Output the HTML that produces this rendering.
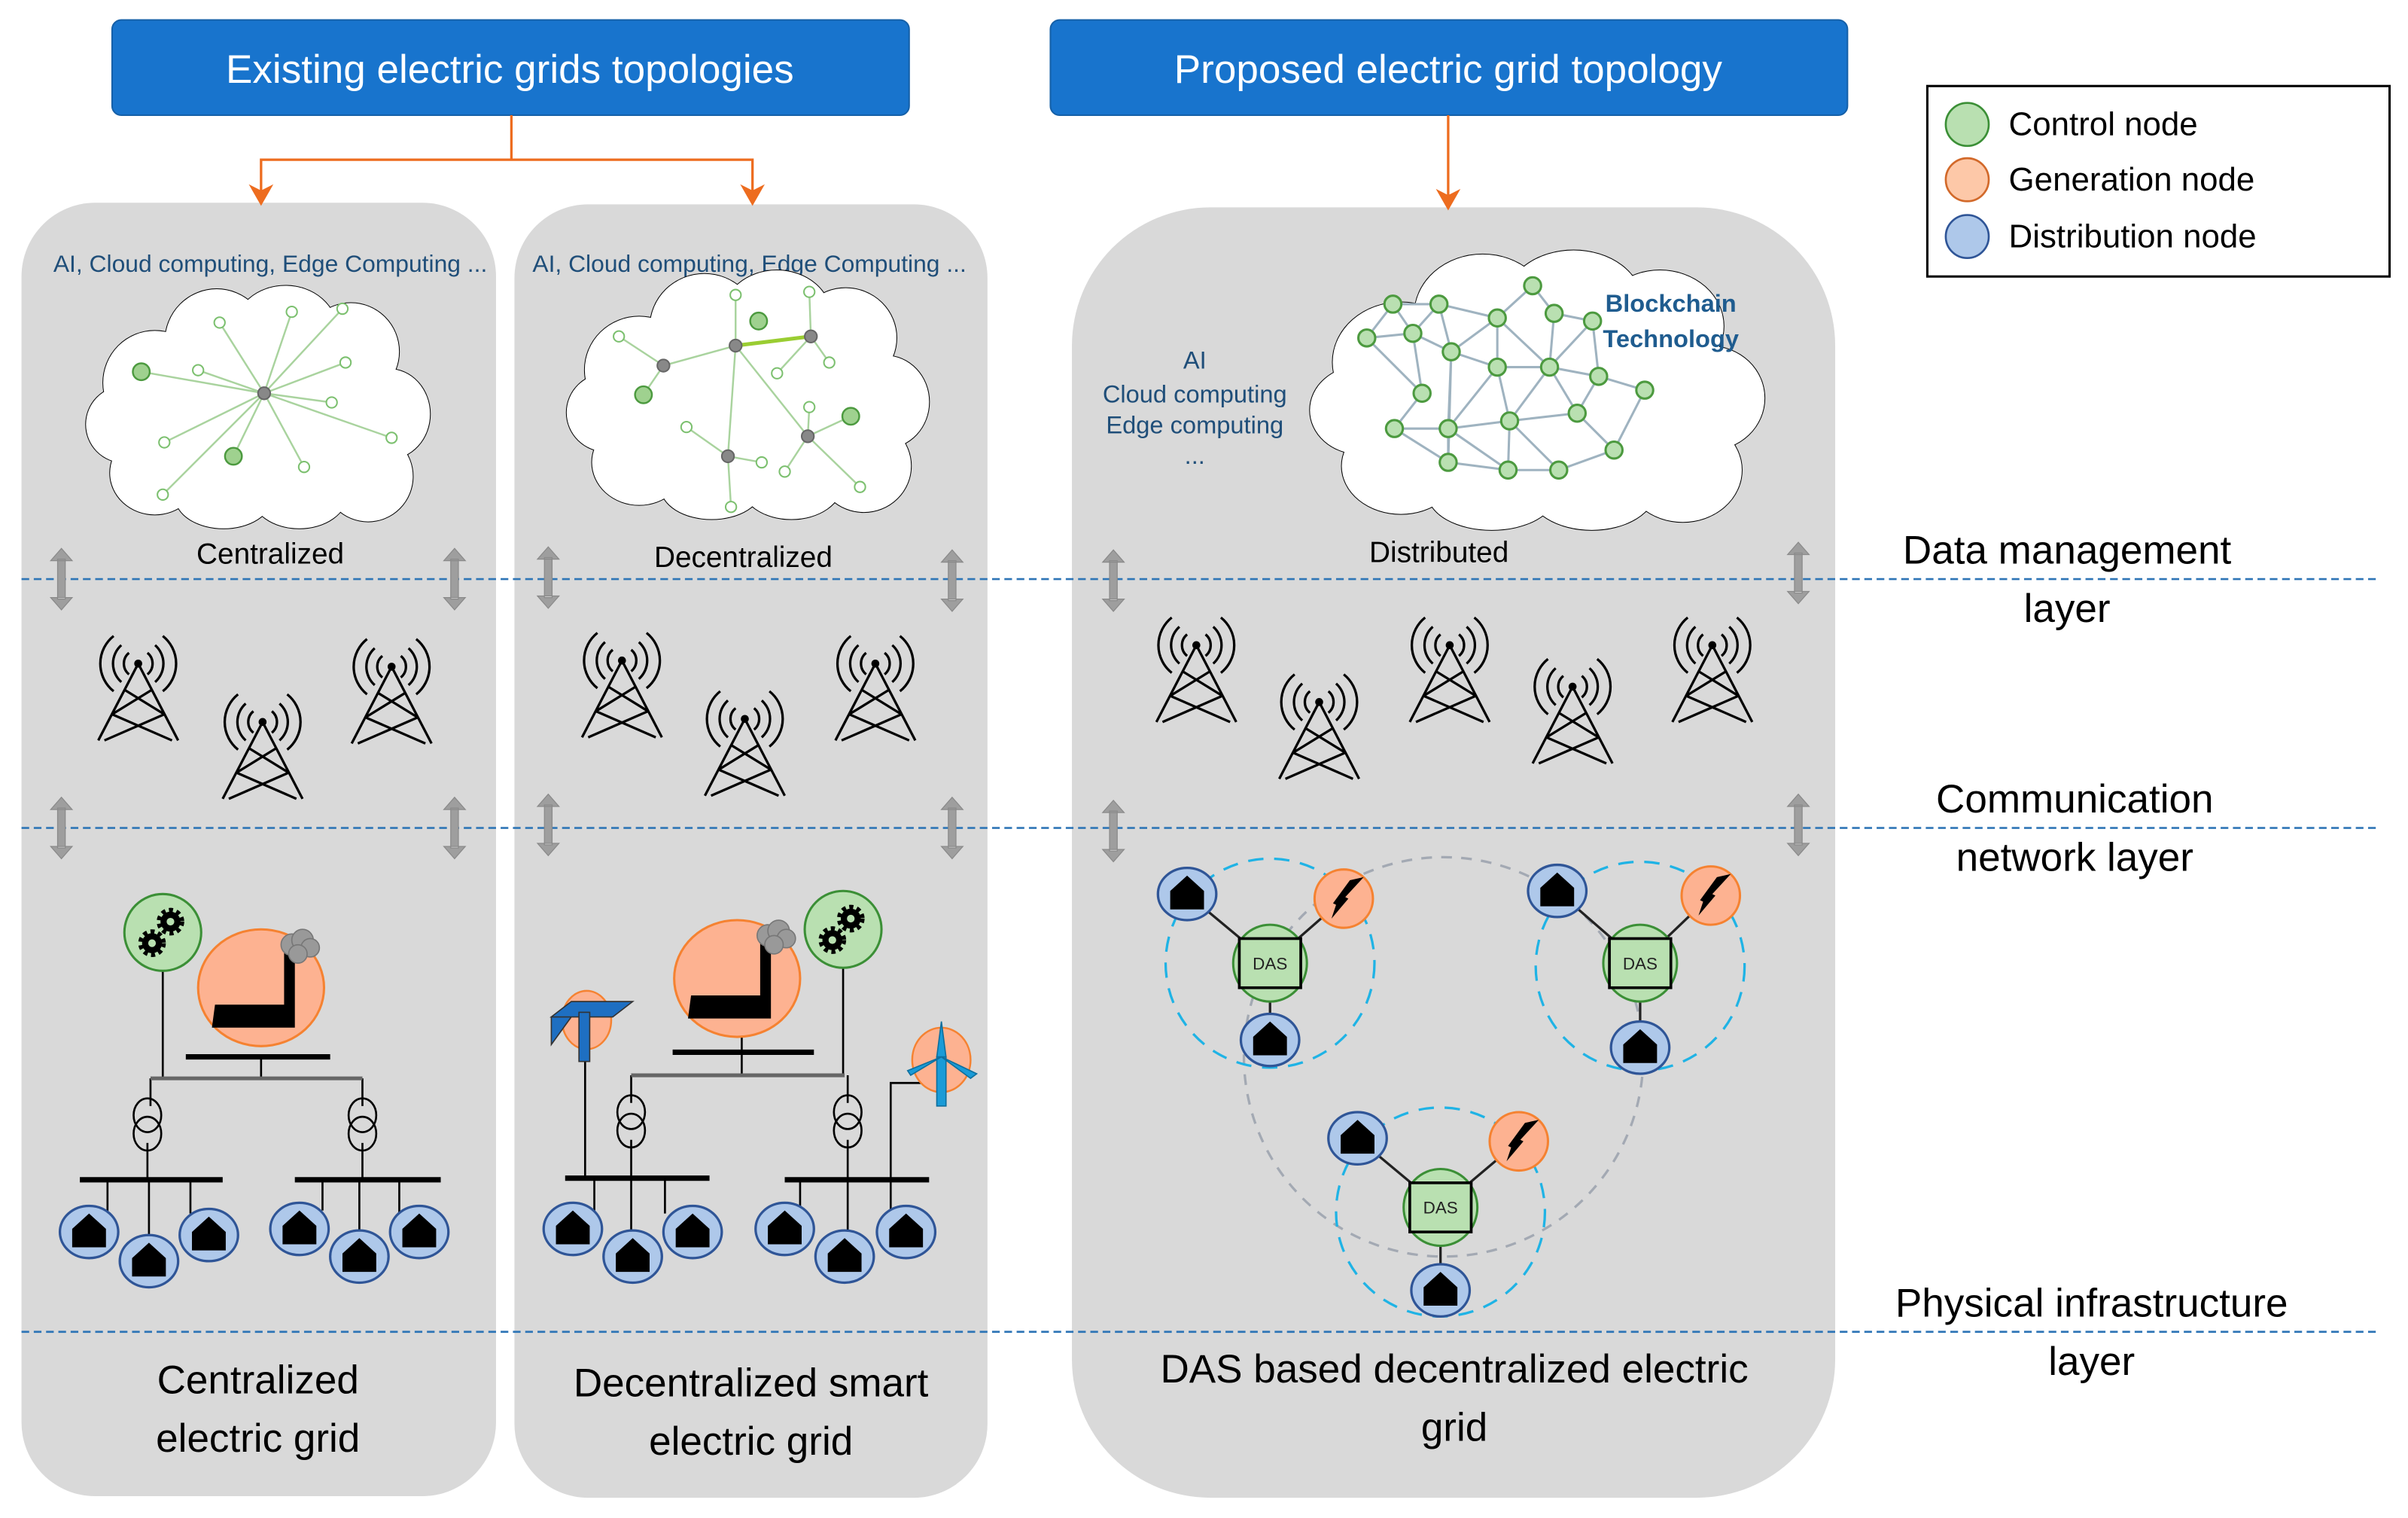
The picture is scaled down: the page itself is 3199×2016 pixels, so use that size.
<!DOCTYPE html>
<html><head><meta charset="utf-8"><style>html,body{margin:0;padding:0;background:#fff}svg{display:block}</style></head>
<body>
<svg width="3199" height="2016" viewBox="0 0 1568 988.2" preserveAspectRatio="none" xmlns="http://www.w3.org/2000/svg" font-family="Liberation Sans, sans-serif">
<defs>
<symbol id="cloud" viewBox="0 0 100 70" preserveAspectRatio="none" overflow="visible">
<g fill="#fff" stroke="#000" stroke-width="2" vector-effect="non-scaling-stroke">
<ellipse cx="20" cy="28" rx="15" ry="15" vector-effect="non-scaling-stroke"/><ellipse cx="38" cy="16" rx="15" ry="15" vector-effect="non-scaling-stroke"/><ellipse cx="58" cy="13" rx="15" ry="13" vector-effect="non-scaling-stroke"/><ellipse cx="77" cy="19" rx="14" ry="14" vector-effect="non-scaling-stroke"/><ellipse cx="88" cy="37" rx="12" ry="13" vector-effect="non-scaling-stroke"/><ellipse cx="82" cy="55" rx="13" ry="13" vector-effect="non-scaling-stroke"/><ellipse cx="62" cy="60" rx="14" ry="10" vector-effect="non-scaling-stroke"/><ellipse cx="40" cy="61" rx="14" ry="9" vector-effect="non-scaling-stroke"/><ellipse cx="20" cy="54" rx="13" ry="12" vector-effect="non-scaling-stroke"/><ellipse cx="11" cy="40" rx="11" ry="11" vector-effect="non-scaling-stroke"/>
</g>
<g fill="#fff">
<ellipse cx="20" cy="28" rx="15" ry="15"/><ellipse cx="38" cy="16" rx="15" ry="15"/><ellipse cx="58" cy="13" rx="15" ry="13"/><ellipse cx="77" cy="19" rx="14" ry="14"/><ellipse cx="88" cy="37" rx="12" ry="13"/><ellipse cx="82" cy="55" rx="13" ry="13"/><ellipse cx="62" cy="60" rx="14" ry="10"/><ellipse cx="40" cy="61" rx="14" ry="9"/><ellipse cx="20" cy="54" rx="13" ry="12"/><ellipse cx="11" cy="40" rx="11" ry="11"/><ellipse cx="50" cy="38" rx="36" ry="24"/>
</g>
</symbol>
<g id="tower" fill="none" stroke="#000" stroke-width="1.6">
<circle cx="0" cy="0" r="1.8" fill="#000"/>
<path d="M0,0 L-26,50 M0,0 L26,50 M-9,17 L17,33 M9,17 L-17,33 M-17,33 L22,50 M17,33 L-22,50"/>
<path d="M-6,-7 A9,9 0 0,0 -6,7 M6,-7 A9,9 0 0,1 6,7 M-11,-12 A16,16 0 0,0 -11,12 M11,-12 A16,16 0 0,1 11,12 M-16,-18 A23,23 0 0,0 -16,18 M16,-18 A23,23 0 0,1 16,18"/>
</g>
<g id="darrow"><path d="M-2.5,-13 L2.5,-13 L2.5,13 L-2.5,13Z M-7,-12 L0,-20 L7,-12Z M-7,12 L0,20 L7,12Z" fill="#9e9e9e" stroke="#8a8a8a" stroke-width="0.6"/></g>
<g id="house"><ellipse cx="0" cy="0" rx="19" ry="17" fill="#aec8ea" stroke="#2f5597" stroke-width="1.6"/><path d="M-11,10 L-11,-2 L0,-12 L11,-2 L11,10Z" fill="#000"/></g>
<g id="gen"><ellipse cx="0" cy="0" rx="19" ry="19" fill="#fdb291" stroke="#f58231" stroke-width="1.5"/><path d="M13,-14 L1,-1 L3,0 L-8,13 L-5,4 L-7,3 L4,-12Z" fill="#000"/></g>
<g id="das"><ellipse cx="0" cy="0" rx="24" ry="25" fill="#b9e0b1" stroke="#3b8f36" stroke-width="1.5"/><rect x="-20" y="-16" width="40" height="32" fill="#b9e0b1" stroke="#000" stroke-width="1.8"/><text x="0" y="4" font-size="11" text-anchor="middle" fill="#222">DAS</text></g>
<g id="ctrl"><ellipse cx="0" cy="0" rx="25" ry="25" fill="#b9e0b1" stroke="#3b8f36" stroke-width="1.5"/>
<circle cx="5" cy="-7" r="4.5" fill="none" stroke="#000" stroke-width="4"/><circle cx="5" cy="-7" r="7.5" fill="none" stroke="#000" stroke-width="3" stroke-dasharray="2.6 2.3"/>
<circle cx="-7" cy="7" r="4.5" fill="none" stroke="#000" stroke-width="4"/><circle cx="-7" cy="7" r="7.5" fill="none" stroke="#000" stroke-width="3" stroke-dasharray="2.6 2.3"/></g>
<g id="factory"><ellipse cx="0" cy="0" rx="41" ry="38" fill="#fdb291" stroke="#f58231" stroke-width="1.5"/>
<path d="M-32,26 L-30,11 L15,11 L15,-23 L22,-23 L22,26Z" fill="#000"/>
<g fill="#999" stroke="#777" stroke-width="0.8"><circle cx="20" cy="-28" r="7"/><circle cx="27" cy="-31" r="7"/><circle cx="32" cy="-26" r="6"/><circle cx="24" cy="-22" r="6"/></g></g>
<g id="xfmr" fill="none" stroke="#000" stroke-width="1.3"><ellipse cx="0" cy="-6" rx="9" ry="11"/><ellipse cx="0" cy="6" rx="9" ry="11"/></g>
</defs>

<rect width="1568" height="988.2" fill="#fff"/>
<rect x="14" y="132" width="309" height="842" rx="48" fill="#d9d9d9"/>
<rect x="335" y="133" width="308" height="842" rx="48" fill="#d9d9d9"/>
<rect x="698" y="135" width="497" height="840" rx="90" fill="#d9d9d9"/>

<rect x="73" y="13" width="519" height="62" rx="6" fill="#1874cd" stroke="#1560a8" stroke-width="1"/>
<text x="332" y="54" font-size="26" fill="#fff" text-anchor="middle">Existing electric grids topologies</text>
<rect x="684" y="13" width="519" height="62" rx="6" fill="#1874cd" stroke="#1560a8" stroke-width="1"/>
<text x="943" y="54" font-size="26" fill="#fff" text-anchor="middle">Proposed electric grid topology</text>

<g stroke="#ed6c1f" stroke-width="1.6" fill="none"><path d="M333,75 V104 H170 V124 M333,104 H490 V124 M943,75 V127"/></g>
<g fill="#ed6c1f"><path d="M162,120 L170,134 L178,120 L170,124Z"/><path d="M482,120 L490,134 L498,120 L490,124Z"/><path d="M935,123 L943,137 L951,123 L943,127Z"/></g>

<rect x="1255" y="56" width="301" height="124" fill="#fff" stroke="#000" stroke-width="1.5"/>
<ellipse cx="1281" cy="81" rx="14" ry="14" fill="#b9e0b1" stroke="#3b8f36" stroke-width="1.3"/>
<ellipse cx="1281" cy="117" rx="14" ry="14" fill="#fdc8a8" stroke="#d2692a" stroke-width="1.3"/>
<ellipse cx="1281" cy="154" rx="14" ry="14" fill="#aec8ea" stroke="#2f5597" stroke-width="1.3"/>
<g font-size="21.5" fill="#000"><text x="1308" y="88">Control node</text><text x="1308" y="124">Generation node</text><text x="1308" y="161">Distribution node</text></g>

<g stroke="#2e75b6" stroke-width="1.3" stroke-dasharray="5 3"><line x1="14" y1="377" x2="1548" y2="377"/><line x1="14" y1="539" x2="1548" y2="539"/><line x1="14" y1="867" x2="1548" y2="867"/></g>

<g font-size="26" fill="#000" text-anchor="middle">
<text x="1346" y="367">Data management</text><text x="1346" y="405">layer</text>
<text x="1351" y="529">Communication</text><text x="1351" y="567">network layer</text>
<text x="1362" y="857">Physical infrastructure</text><text x="1362" y="895">layer</text>
<text x="168" y="907">Centralized</text><text x="168" y="945">electric grid</text>
<text x="489" y="909">Decentralized smart</text><text x="489" y="947">electric grid</text>
<text x="947" y="900">DAS based decentralized electric</text><text x="947" y="938">grid</text>
</g>

<g font-size="15.6" fill="#1f4e79" text-anchor="middle">
<text x="176" y="177">AI, Cloud computing, Edge Computing ...</text>
<text x="488" y="177">AI, Cloud computing, Edge Computing ...</text>
</g>
<g font-size="16" fill="#1f4e79" text-anchor="middle">
<text x="778" y="240">AI</text><text x="778" y="262">Cloud computing</text><text x="778" y="282">Edge computing</text><text x="778" y="302">...</text>
</g>
<g font-size="19" fill="#000" text-anchor="middle"><text x="176" y="367">Centralized</text><text x="484" y="369">Decentralized</text><text x="937" y="366">Distributed</text></g>

<use href="#cloud" x="56" y="186" width="224" height="158"/>
<use href="#cloud" x="369" y="176" width="236" height="162"/>
<use href="#cloud" x="853" y="163" width="296" height="182"/>

<g stroke="#a9d39e" stroke-width="1.2" fill="none">
<path d="M172,256 L92,242 M172,256 L152,297 M172,256 L143,210 M172,256 L190,203 M172,256 L223,201 M172,256 L129,241 M172,256 L225,236 M172,256 L216,262 M172,256 L107,288 M172,256 L106,322 M172,256 L198,304 M172,256 L255,285"/>
</g>
<g fill="#fff" stroke="#7cc06f" stroke-width="1"><circle cx="143" cy="210" r="3.5"/><circle cx="190" cy="203" r="3.5"/><circle cx="223" cy="201" r="3.5"/><circle cx="129" cy="241" r="3.5"/><circle cx="225" cy="236" r="3.5"/><circle cx="216" cy="262" r="3.5"/><circle cx="107" cy="288" r="3.5"/><circle cx="106" cy="322" r="3.5"/><circle cx="198" cy="304" r="3.5"/><circle cx="255" cy="285" r="3.5"/></g>
<g fill="#9fd18f" stroke="#4c9a3f" stroke-width="1.2"><circle cx="92" cy="242" r="5.5"/><circle cx="152" cy="297" r="5.5"/></g>
<circle cx="172" cy="256" r="4" fill="#888" stroke="#666"/>

<g stroke="#a9d39e" stroke-width="1.2" fill="none">
<path d="M479,225 L479,192 M479,225 L432,238 M479,225 L474,297 M479,225 L526,284 M528,219 L527,190 M528,219 L540,236 M528,219 L506,243 M432,238 L403,219 M432,238 L419,257 M474,297 L447,278 M474,297 L496,301 M474,297 L476,330 M526,284 L527,265 M526,284 L554,271 M526,284 L511,307 M526,284 L560,317"/>
</g>
<line x1="479" y1="225" x2="528" y2="219" stroke="#9acd32" stroke-width="2.5"/>
<g fill="#fff" stroke="#7cc06f" stroke-width="1"><circle cx="479" cy="192" r="3.5"/><circle cx="527" cy="190" r="3.5"/><circle cx="403" cy="219" r="3.5"/><circle cx="540" cy="236" r="3.5"/><circle cx="506" cy="243" r="3.5"/><circle cx="447" cy="278" r="3.5"/><circle cx="527" cy="265" r="3.5"/><circle cx="496" cy="301" r="3.5"/><circle cx="511" cy="307" r="3.5"/><circle cx="476" cy="330" r="3.5"/><circle cx="560" cy="317" r="3.5"/></g>
<g fill="#9fd18f" stroke="#4c9a3f" stroke-width="1.2"><circle cx="494" cy="209" r="5.5"/><circle cx="419" cy="257" r="5.5"/><circle cx="554" cy="271" r="5.5"/></g>
<g fill="#888" stroke="#666"><circle cx="479" cy="225" r="4"/><circle cx="528" cy="219" r="4"/><circle cx="432" cy="238" r="4"/><circle cx="474" cy="297" r="4"/><circle cx="526" cy="284" r="4"/></g>

<g stroke="#9fb3c0" stroke-width="1.5" fill="none">
<path d="M907,198 L937,198 L975,207 L998,186 L1012,204 L1037,209 M907,198 L890,220 L920,217 L937,198 M907,198 L920,217 L945,229 L975,207 M937,198 L945,229 L943,301 M890,220 L926,256 L920,217 M945,229 L975,239 L1009,239 L1041,245 L1071,254 M975,207 L975,239 M1012,204 L1009,239 L1037,209 M975,239 L983,274 L1009,239 M1041,245 L1027,269 L1009,239 M1037,209 L1041,245 M926,256 L908,279 L943,279 L983,274 L1027,269 M945,229 L943,279 L975,239 M943,279 L982,306 L983,274 L1015,306 L1051,293 L1027,269 M908,279 L943,301 L982,306 L1015,306 M943,279 L943,301 M1051,293 L1071,254 M975,207 L1009,239"/>
</g>
<g fill="#b9e0b1" stroke="#4c9a3f" stroke-width="1.5">
<circle cx="907" cy="198" r="5.5"/><circle cx="937" cy="198" r="5.5"/><circle cx="998" cy="186" r="5.5"/><circle cx="890" cy="220" r="5.5"/><circle cx="920" cy="217" r="5.5"/><circle cx="975" cy="207" r="5.5"/><circle cx="1012" cy="204" r="5.5"/><circle cx="1037" cy="209" r="5.5"/><circle cx="945" cy="229" r="5.5"/><circle cx="975" cy="239" r="5.5"/><circle cx="1009" cy="239" r="5.5"/><circle cx="1041" cy="245" r="5.5"/><circle cx="1071" cy="254" r="5.5"/><circle cx="926" cy="256" r="5.5"/><circle cx="983" cy="274" r="5.5"/><circle cx="1027" cy="269" r="5.5"/><circle cx="908" cy="279" r="5.5"/><circle cx="943" cy="279" r="5.5"/><circle cx="1051" cy="293" r="5.5"/><circle cx="943" cy="301" r="5.5"/><circle cx="982" cy="306" r="5.5"/><circle cx="1015" cy="306" r="5.5"/>
</g>
<g font-size="16" font-weight="bold" fill="#1f5c8f" text-anchor="middle"><text x="1088" y="203">Blockchain</text><text x="1088" y="226">Technology</text></g>

<g>
<use href="#darrow" x="40" y="377"/><use href="#darrow" x="296" y="377"/><use href="#darrow" x="357" y="376"/><use href="#darrow" x="620" y="378"/><use href="#darrow" x="725" y="378"/><use href="#darrow" x="1171" y="373"/>
<use href="#darrow" x="40" y="539"/><use href="#darrow" x="296" y="539"/><use href="#darrow" x="357" y="537"/><use href="#darrow" x="620" y="539"/><use href="#darrow" x="725" y="541"/><use href="#darrow" x="1171" y="537"/>
</g>

<use href="#tower" x="90" y="432"/><use href="#tower" x="171" y="470"/><use href="#tower" x="255" y="434"/>
<use href="#tower" x="405" y="430"/><use href="#tower" x="485" y="468"/><use href="#tower" x="570" y="432"/>
<use href="#tower" x="779" y="420"/><use href="#tower" x="859" y="457"/><use href="#tower" x="944" y="420"/><use href="#tower" x="1024" y="447"/><use href="#tower" x="1115" y="420"/>

<g stroke="#000" stroke-width="1.3" fill="none">
<path d="M106,632 V702 M170,688 V702 M98,702 V720 M236,702 V720 M96,744 V768 M236,744 V768 M70,768 V790 M97,768 V806 M124,768 V790 M210,768 V788 M234,768 V805 M260,768 V790"/>
</g>
<line x1="98" y1="702" x2="236" y2="702" stroke="#666" stroke-width="2.5"/>
<line x1="121" y1="688" x2="215" y2="688" stroke="#000" stroke-width="3.5"/>
<line x1="52" y1="768" x2="145" y2="768" stroke="#000" stroke-width="3.5"/>
<line x1="192" y1="768" x2="287" y2="768" stroke="#000" stroke-width="3.5"/>
<use href="#xfmr" x="96" y="732"/><use href="#xfmr" x="236" y="732"/>
<use href="#ctrl" x="106" y="607"/>
<use href="#factory" x="170" y="643"/>
<use href="#house" x="58" y="802"/><use href="#house" x="136" y="804"/><use href="#house" x="97" y="821"/>
<use href="#house" x="195" y="800"/><use href="#house" x="273" y="802"/><use href="#house" x="234" y="818"/>

<g stroke="#000" stroke-width="1.3" fill="none">
<path d="M549,630 V700 M483,672 V700 M411,700 V718 M552,700 V718 M411,742 V767 M552,742 V768 M381,690 V767 M387,767 V788 M411,767 V806 M433,767 V790 M521,768 V788 M552,768 V806 M580,768 V790 M580,768 V705 H607"/>
</g>
<line x1="411" y1="700" x2="550" y2="700" stroke="#666" stroke-width="2.5"/>
<line x1="438" y1="685" x2="530" y2="685" stroke="#000" stroke-width="3.5"/>
<line x1="368" y1="767" x2="462" y2="767" stroke="#000" stroke-width="3.5"/>
<line x1="511" y1="768" x2="605" y2="768" stroke="#000" stroke-width="3.5"/>
<use href="#xfmr" x="411" y="730"/><use href="#xfmr" x="552" y="730"/>
<use href="#ctrl" x="549" y="605"/>
<use href="#factory" x="480" y="637"/>
<ellipse cx="382" cy="664" rx="16" ry="19" fill="#fdb291" stroke="#f58231" stroke-width="1.2"/>
<path d="M359,662 L372,652 L412,652 L399,662 Z M359,662 L359,680 L372,662Z" fill="#1e6fc2" stroke="#333" stroke-width="0.8"/>
<rect x="377" y="659" width="7" height="32" fill="#1e6fc2" stroke="#333" stroke-width="0.8"/>
<ellipse cx="613" cy="690" rx="19" ry="21" fill="#fdb291" stroke="#f58231" stroke-width="1.2"/>
<g fill="#1a9bd7" stroke="#0e6f9e" stroke-width="0.8"><rect x="610" y="688" width="6" height="32"/><path d="M613,665 L616,688 L610,688Z"/><path d="M613,688 L636,699 L632,702Z"/><path d="M613,688 L593,700 L591,697Z"/></g>
<use href="#house" x="373" y="800"/><use href="#house" x="451" y="802"/><use href="#house" x="412" y="818"/>
<use href="#house" x="511" y="800"/><use href="#house" x="590" y="802"/><use href="#house" x="550" y="818"/>

<circle cx="940" cy="688" r="130" fill="none" stroke="#a3a9b3" stroke-width="1.6" stroke-dasharray="7 6"/>
<g fill="none" stroke="#1fb3e5" stroke-width="1.6" stroke-dasharray="10 7">
<circle cx="827" cy="627" r="68"/><circle cx="1068" cy="629" r="68"/><circle cx="938" cy="789" r="68"/>
</g>
<g stroke="#222" stroke-width="1.6" fill="none">
<path d="M773,582 L827,627 L875,585 M827,627 L827,677 M1014,580 L1068,627 L1114,583 M1068,627 L1068,682 M884,741 L938,786 L989,743 M938,786 L938,840"/>
</g>
<use href="#house" x="773" y="582"/><use href="#gen" x="875" y="585"/><use href="#house" x="827" y="677"/><use href="#das" x="827" y="627"/>
<use href="#house" x="1014" y="580"/><use href="#gen" x="1114" y="583"/><use href="#house" x="1068" y="682"/><use href="#das" x="1068" y="627"/>
<use href="#house" x="884" y="741"/><use href="#gen" x="989" y="743"/><use href="#house" x="938" y="840"/><use href="#das" x="938" y="786"/>
</svg>
</body></html>
